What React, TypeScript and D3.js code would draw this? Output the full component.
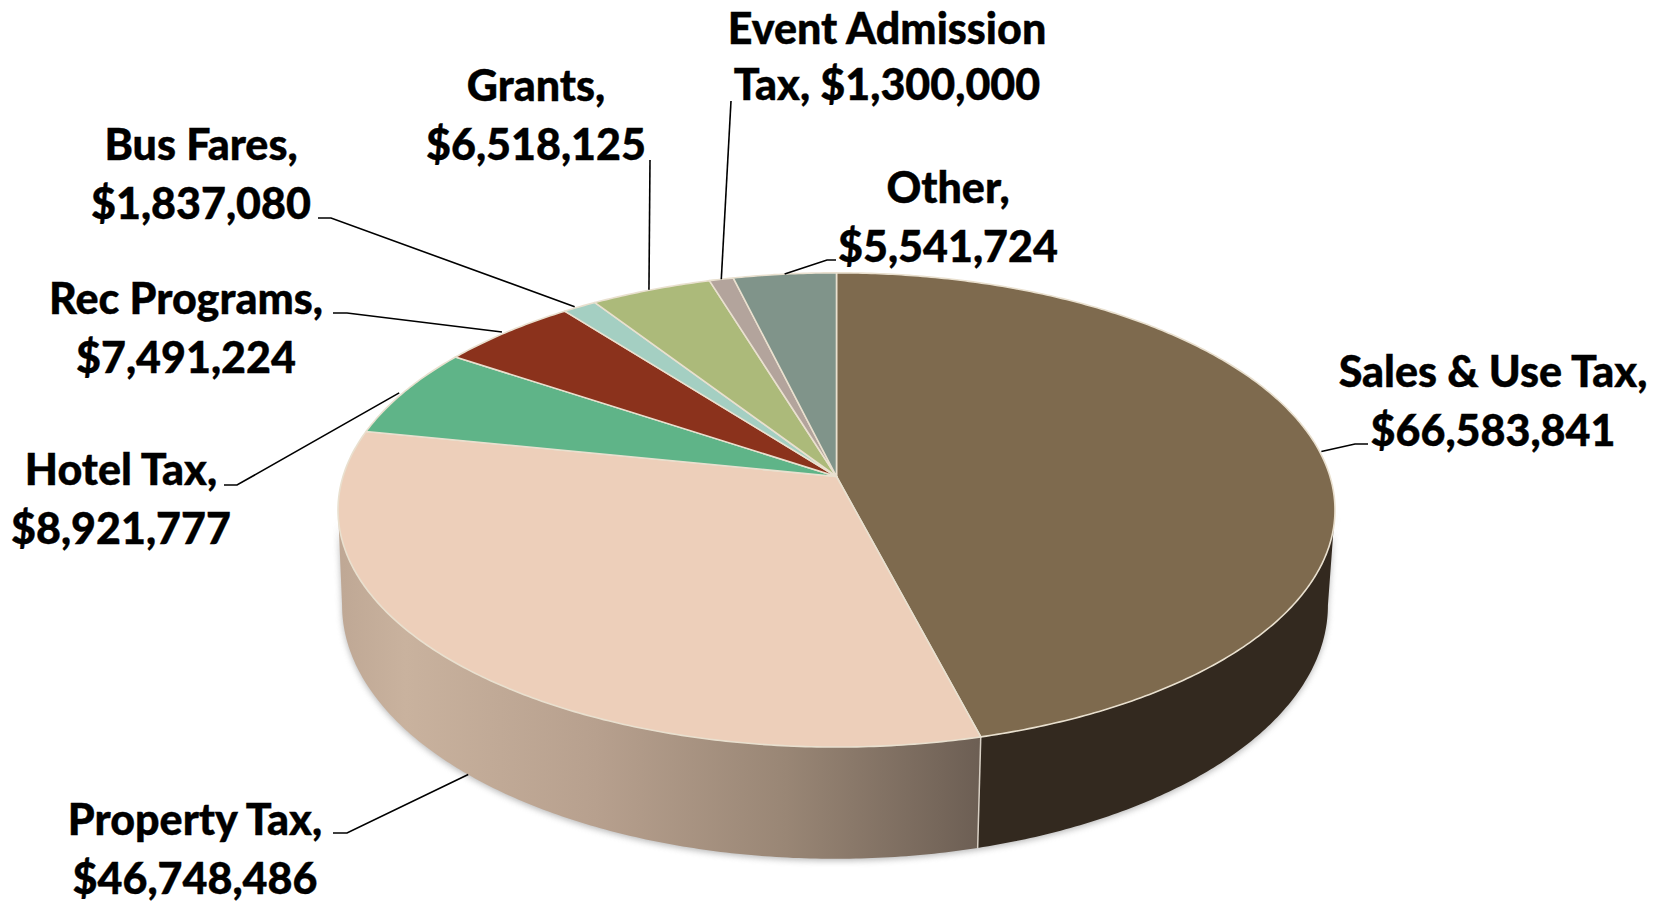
import React from "react";
import * as d3 from "d3";

// Revenue sources, clockwise from twelve o'clock
const categories = ["Sales & Use Tax", "Property Tax", "Hotel Tax", "Rec Programs", "Bus Fares", "Grants", "Event Admission Tax", "Other"];
const revenues = [66583841, 46748486, 8921777, 7491224, 1837080, 6518125, 1300000, 5541724];
const sliceColors = ["#7e6a4e", "#edcfba", "#5fb488", "#8b321c", "#a4cfc2", "#acba7a", "#b3a49c", "#80948a"];

// Two-line label text, one entry per slice
const labelLines = [
  ["Sales & Use Tax,", "$66,583,841"],
  ["Property Tax,", "$46,748,486"],
  ["Hotel Tax,", "$8,921,777"],
  ["Rec Programs,", "$7,491,224"],
  ["Bus Fares,", "$1,837,080"],
  ["Grants,", "$6,518,125"],
  ["Event Admission", "Tax, $1,300,000"],
  ["Other,", "$5,541,724"],
];

// Label anchor (centre x, first baseline), line spacing, leader elbow/end points
// and a small nudge of the leader's start along the rim
const labelLayout = [
  { x: 1493, y: 387, leading: 58.5, nudge: [4, 4], leader: [[1355, 444], [1368, 444]] },
  { x: 195, y: 835, leading: 58.5, nudge: [7, 4], leader: [[347, 833], [333, 833]] },
  { x: 121, y: 485, leading: 58.5, nudge: [-5, 1], leader: [[237, 485], [224, 485]] },
  { x: 186, y: 314, leading: 58.5, nudge: [-5, 0], leader: [[347, 313], [333, 313]] },
  { x: 201, y: 160, leading: 58.5, nudge: [-5, 0], leader: [[331, 218], [318, 218]] },
  { x: 536, y: 101, leading: 58.5, nudge: [-2, 0], leader: [[650, 160]] },
  { x: 887, y: 44, leading: 56, nudge: [0, 0], leader: [[731, 101]] },
  { x: 948, y: 203, leading: 58.5, nudge: [0, 0], leader: [[827, 260], [836, 260]] },
];

const WIDTH = 1673;
const HEIGHT = 901;
const TAU = Math.PI * 2;

// Perspective mapping of the disc plane: u to the right, v toward the viewer
const K = 0.141;
const topPlane = { cx: 836.5, cy: 476.5, a: 493.5, b: 232.4 };
const bottomPlane = { cx: 835, cy: 569.5, a: 488, b: 248.5 };

type Plane = typeof topPlane;
const project = (p: Plane, angle: number): [number, number] => {
  const u = Math.sin(angle);
  const v = -Math.cos(angle);
  const w = 1 - K * v;
  return [p.cx + (p.a * u) / w, p.cy + (p.b * v) / w];
};

const rim = (p: Plane, from: number, to: number) => {
  const n = Math.max(2, Math.ceil(Math.abs(to - from) / 0.01));
  return d3.range(n + 1).map((i) => project(p, from + ((to - from) * i) / n));
};

const line = d3.line<[number, number]>();

export default function App() {
  const arcs = d3.pie<number>().sort(null).startAngle(0).endAngle(TAU)(revenues);
  const center: [number, number] = [topPlane.cx, topPlane.cy];

  // The wall is visible between the two silhouette tangents of the disc
  const rightTangent = Math.acos(-K);
  const leftTangent = TAU - rightTangent;
  const split = arcs[0].endAngle;

  const wall = (from: number, to: number) =>
    line([...rim(topPlane, from, to), ...rim(bottomPlane, to, from)]) + "Z";
  const shadowPath = wall(rightTangent, leftTangent);

  return (
    <svg
      width={WIDTH}
      height={HEIGHT}
      viewBox={`0 0 ${WIDTH} ${HEIGHT}`}
      style={{ position: "absolute", left: 0, top: 0, display: "block", background: "#fff" }}
    >
      <defs>
        <linearGradient id="propertyWall" gradientUnits="userSpaceOnUse" x1={342} x2={977} y1={0} y2={0}>
          <stop offset="0" stopColor="#bfa895" />
          <stop offset="0.1" stopColor="#c9b29e" />
          <stop offset="0.4" stopColor="#b7a08e" />
          <stop offset="0.7" stopColor="#998675" />
          <stop offset="1" stopColor="#6d5f54" />
        </linearGradient>
        <filter id="soft" x="-5%" y="-5%" width="110%" height="110%">
          <feGaussianBlur stdDeviation="3" />
        </filter>
      </defs>

      {/* soft cast shadow under the disc */}
      <path d={shadowPath} fill="#8a8a8a" opacity={0.6} filter="url(#soft)" transform="translate(0,2)" />

      {/* side walls */}
      <path d={wall(rightTangent, split)} fill="#33291f" />
      <path d={wall(split, leftTangent)} fill="url(#propertyWall)" />
      <path d={line([project(topPlane, split), project(bottomPlane, split)]) ?? ""} stroke="#d8d0c4" strokeWidth={1.5} fill="none" />

      {/* top face */}
      {arcs.map((arc, i) => (
        <path
          key={categories[i]}
          d={line([center, ...rim(topPlane, arc.startAngle, arc.endAngle)]) + "Z"}
          fill={sliceColors[i]}
          stroke="#e9e0cf"
          strokeWidth={1.6}
          strokeLinejoin="round"
        />
      ))}

      {/* leader lines start on the rim at each slice's mid angle */}
      {arcs.map((arc, i) => {
        const mid = (arc.startAngle + arc.endAngle) / 2;
        const onFront = Math.cos(mid) < 0 && mid > rightTangent && mid < leftTangent;
        const [sx, sy] = project(onFront ? bottomPlane : topPlane, mid);
        const [nx, ny] = labelLayout[i].nudge;
        const pts = [[sx + nx, sy + ny] as [number, number], ...(labelLayout[i].leader as [number, number][])];
        return <path key={categories[i]} d={line(pts) ?? ""} fill="none" stroke="#000" strokeWidth={1.6} />;
      })}

      {/* labels */}
      <g fontFamily="Lato, sans-serif" fontWeight={900} fontSize={43} stroke="#000" strokeWidth={0.4} textAnchor="middle" fill="#000">
        {labelLines.map((lines, i) =>
          lines.map((text, j) => (
            <text key={text} x={labelLayout[i].x} y={labelLayout[i].y + j * labelLayout[i].leading}>
              {text}
            </text>
          ))
        )}
      </g>
    </svg>
  );
}
